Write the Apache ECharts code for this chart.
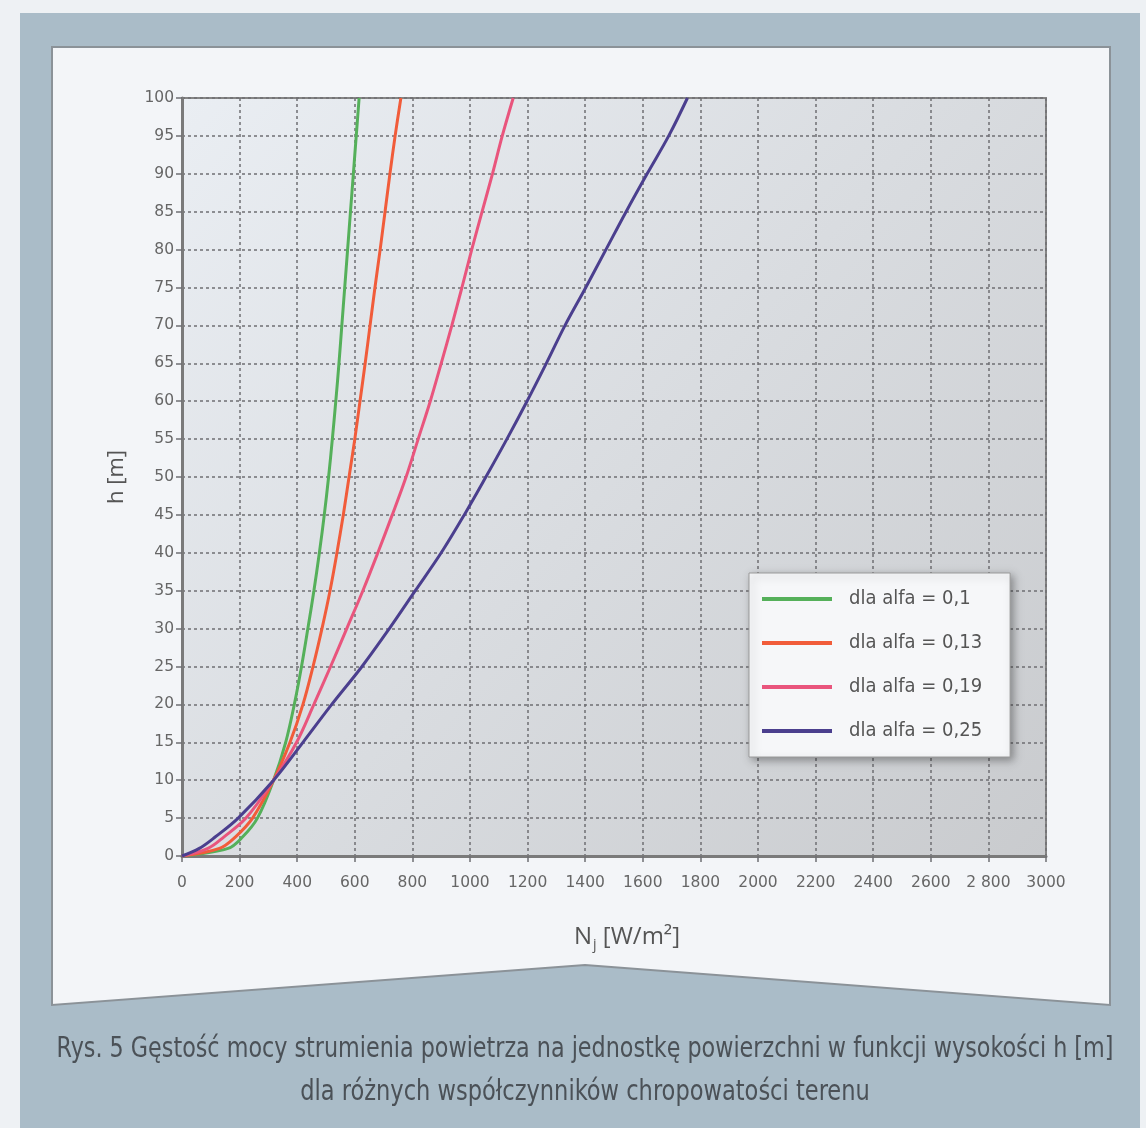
<!DOCTYPE html>
<html>
<head>
<meta charset="utf-8">
<script src="https://cdn.jsdelivr.net/npm/echarts@6/dist/echarts.min.js"></script>
<style>
  html, body { margin: 0; padding: 0; background: #eef1f4; }
  #chart { width: 1146px; height: 1128px; }
</style>
</head>
<body>
<div id="chart"></div>
<script>
// Height above ground h [m] at which each curve is sampled
const heights = [0, 1, 2.5, 5, 10, 15, 20, 25, 30, 35, 40, 45, 50, 55, 60, 65, 70, 75, 80, 85, 90, 95, 100];

// Unit power density N_j [W/m²] for each terrain roughness coefficient
const alfa010 = [0, 160, 210, 262, 318, 360, 390, 415, 437, 458, 477, 494, 509, 522, 534, 545, 555, 565, 575, 585, 595, 605, 615];
const alfa013 = [0, 130, 185, 245, 318, 375, 420, 455, 486, 514, 538, 560, 580, 600, 618, 636, 653, 670, 688, 705, 722, 740, 760];
const alfa019 = [0, 90, 145, 222, 318, 398, 458, 516, 572, 628, 680, 730, 778, 820, 862, 900, 937, 972, 1006, 1042, 1078, 1112, 1150];
const alfa025 = [0, 60, 115, 195, 318, 420, 520, 625, 720, 810, 900, 980, 1055, 1128, 1198, 1265, 1330, 1402, 1472, 1542, 1615, 1690, 1755];

const seriesNames = ['dla alfa = 0,1', 'dla alfa = 0,13', 'dla alfa = 0,19', 'dla alfa = 0,25'];
const seriesColors = ['#55b05a', '#f15c3a', '#e9557d', '#4b3f8e'];

// Axis tick labels
const xTickLabels = ['0', '200', '400', '600', '800', '1000', '1200', '1400', '1600', '1800', '2000', '2200', '2400', '2600', '2 800', '3000'];
const yTickLabels = ['0', '5', '10', '15', '20', '25', '30', '35', '40', '45', '50', '55', '60', '65', '70', '75', '80', '85', '90', '95', '100'];

const captionLines = [
  'Rys. 5 Gęstość mocy strumienia powietrza na jednostkę powierzchni w funkcji wysokości h [m]',
  'dla różnych współczynników chropowatości terenu'
];

const narrowFont = '"Liberation Sans Narrow", "DejaVu Sans Condensed", sans-serif';
const labelFont = '"DejaVu Sans", sans-serif';
const titleFont = '"Open Sans", sans-serif';

const chart = echarts.init(document.getElementById('chart'), null, { renderer: 'canvas' });

const values = [alfa010, alfa013, alfa019, alfa025];
const series = values.map((vals, i) => ({
  name: seriesNames[i],
  type: 'line',
  data: vals.map((n, k) => [n, heights[k]]),
  smooth: 0.35,
  showSymbol: false,
  symbol: 'none',
  lineStyle: { color: seriesColors[i], width: 3 },
  itemStyle: { color: seriesColors[i] },
  z: 3 + i
}));

const gridDash = { color: '#6f6f73', width: 1.5, type: [3, 3] };

// caption lines are set in a condensed face
function captionText(text, y, squeeze) {
  return {
    type: 'text', z: 10, x: 585, y: y, scaleX: squeeze, scaleY: 1,
    style: { text: text, fontSize: 28, fontFamily: narrowFont, fill: '#4b5157',
      textAlign: 'center', textVerticalAlign: 'middle' }
  };
}

const option = {
  backgroundColor: '#eef1f4',
  animation: false,
  graphic: [
    // outer blue-grey frame
    { type: 'rect', z: -20, shape: { x: 20, y: 13, width: 1120, height: 1115 },
      style: { fill: '#aabcc8' } },
    // white panel with chevron bottom edge
    { type: 'polygon', z: -19,
      shape: { points: [[52, 47], [1110, 47], [1110, 1005], [585, 965], [52, 1005]] },
      style: { fill: '#f3f5f8', stroke: '#8b9298', lineWidth: 2 } },
    // x-axis title with subscript
    { type: 'text', z: 10, left: 574, top: 925,
      style: {
        text: '{n|N}{s|j}{u| [W/m²]}',
        rich: {
          n: { fontSize: 24, fontFamily: titleFont, fill: '#555' },
          s: { fontSize: 14, fontFamily: titleFont, fill: '#555', padding: [17, 0, 0, 1] },
          u: { fontSize: 24, fontFamily: titleFont, fill: '#555' }
        }
      } },
    captionText(captionLines[0], 1050, 0.884),
    captionText(captionLines[1], 1093, 0.895)
  ],
  grid: {
    left: 182, right: 100, top: 98, bottom: 272,
    show: true,
    borderColor: '#858585', borderWidth: 2,
    backgroundColor: new echarts.graphic.LinearGradient(0, 0, 1, 1, [
      { offset: 0, color: '#eaeef3' },
      { offset: 0.5, color: '#d9dce0' },
      { offset: 1, color: '#c9cbce' }
    ])
  },
  legend: {
    orient: 'vertical',
    left: 749, top: 573,
    data: seriesNames,
    icon: 'rect',
    itemWidth: 70, itemHeight: 4,
    itemGap: 24,
    padding: [16, 28, 16, 13],
    backgroundColor: '#f6f7f9',
    borderColor: '#9a9a9a', borderWidth: 1,
    shadowBlur: 8, shadowColor: 'rgba(0,0,0,0.35)', shadowOffsetX: 3, shadowOffsetY: 3,
    textStyle: { fontSize: 20, fontFamily: narrowFont, color: '#555', padding: [0, 0, 0, 12] }
  },
  xAxis: {
    type: 'value', min: 0, max: 3000, interval: 200,
    axisLine: { show: true, onZero: false, lineStyle: { color: '#7a7a7a', width: 3 } },
    axisTick: { show: true, inside: false, length: 6, lineStyle: { color: '#6f6f73', width: 1.5 } },
    axisLabel: {
      margin: 19, fontSize: 15.5, fontFamily: labelFont, color: '#666',
      formatter: v => xTickLabels[Math.round(v / 200)]
    },
    splitLine: { show: true, lineStyle: gridDash }
  },
  yAxis: {
    type: 'value', min: 0, max: 100, interval: 5,
    name: 'h [m]', nameLocation: 'middle', nameGap: 54, nameRotate: 90,
    nameTextStyle: { fontSize: 22, fontFamily: titleFont, color: '#555' },
    axisLine: { show: true, onZero: false, lineStyle: { color: '#7a7a7a', width: 3 } },
    axisTick: { show: true, inside: false, length: 6, lineStyle: { color: '#6f6f73', width: 1.5 } },
    axisLabel: {
      margin: 8, fontSize: 15.5, fontFamily: labelFont, color: '#666',
      formatter: v => yTickLabels[Math.round(v / 5)]
    },
    splitLine: { show: true, lineStyle: gridDash }
  },
  series: series
};

chart.setOption(option);
</script>
</body>
</html>
